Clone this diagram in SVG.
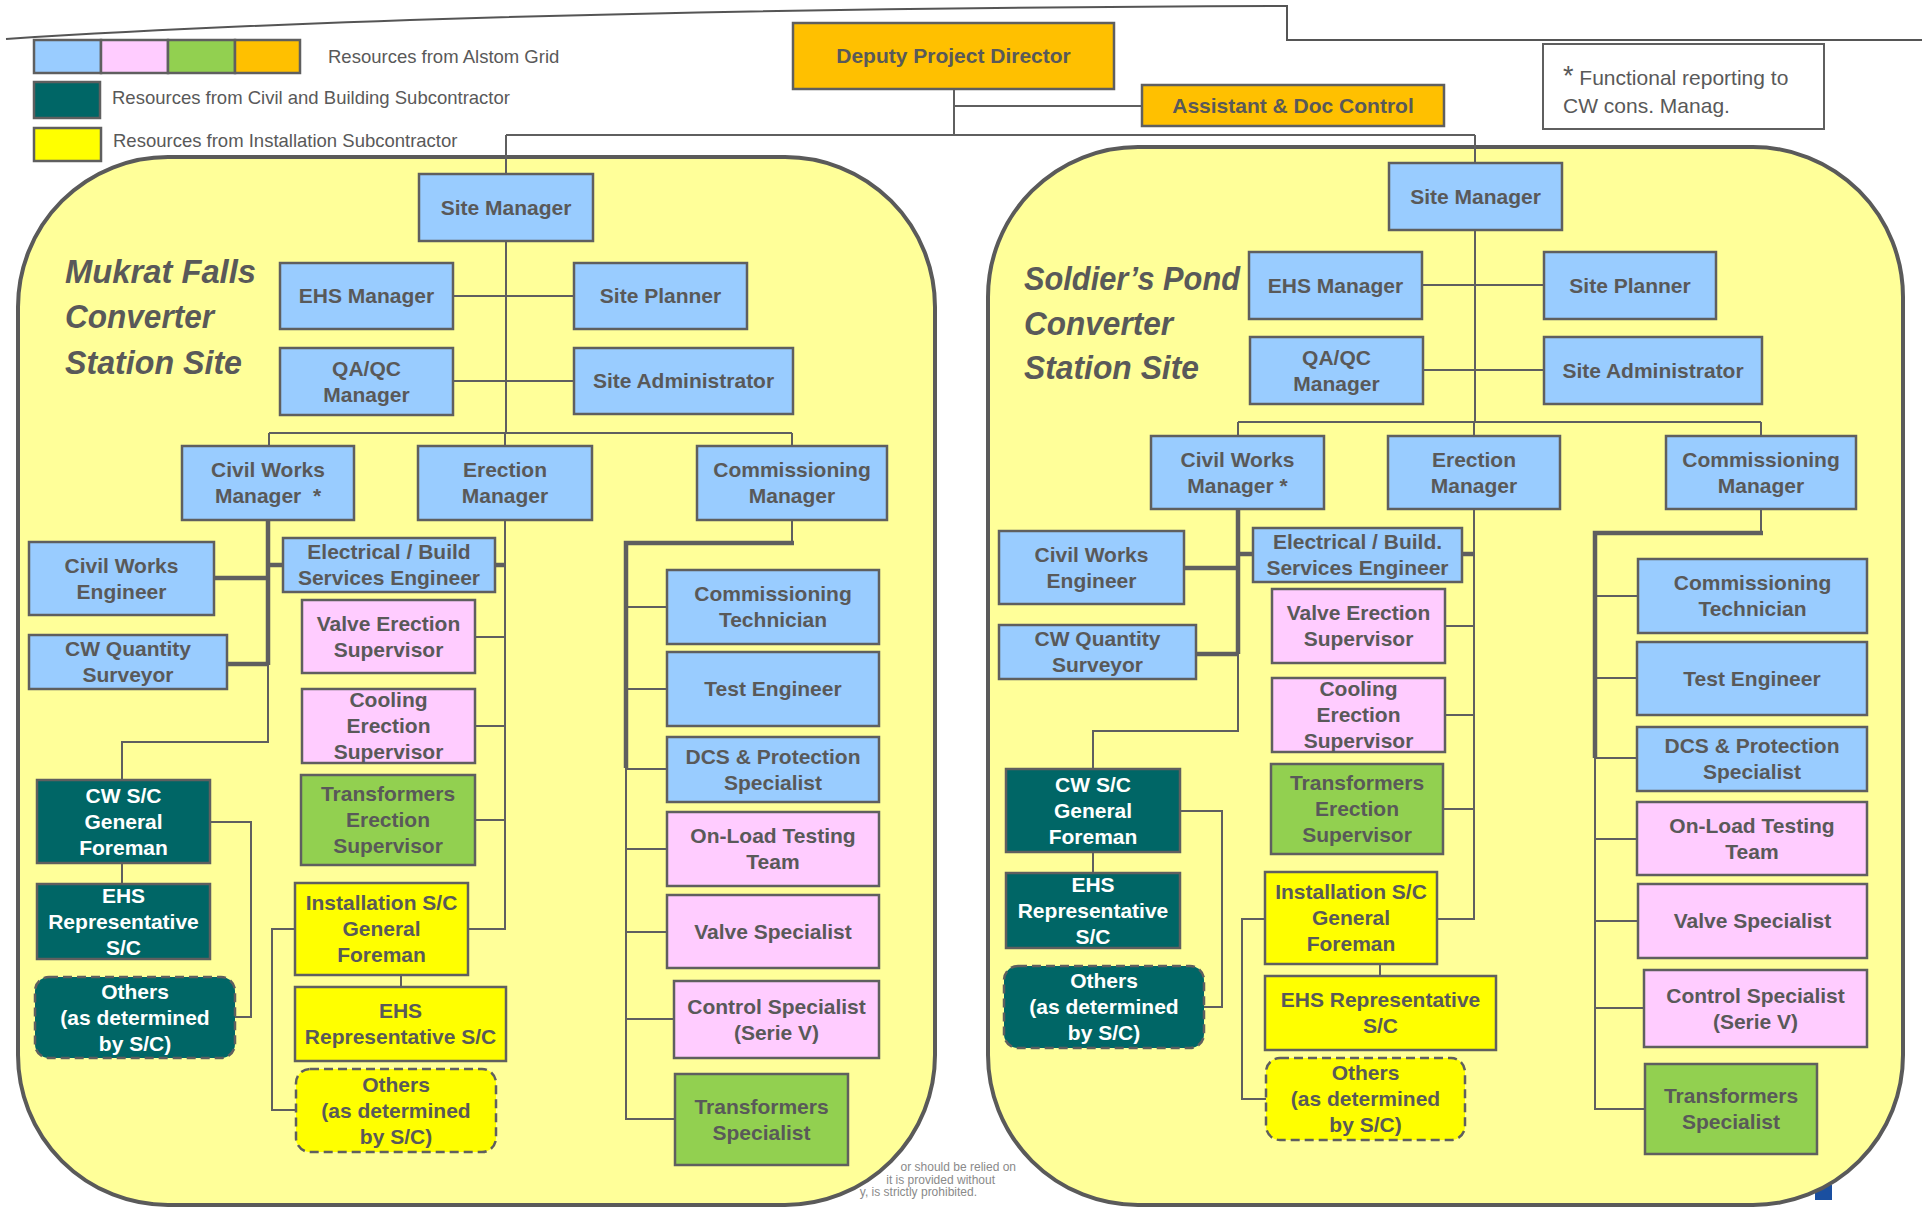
<svg xmlns="http://www.w3.org/2000/svg" width="1922" height="1207" viewBox="0 0 1922 1207">
<style>
.n rect{stroke:#5f5f5f;stroke-width:2.5}
.b{fill:#99CCFF}.p{fill:#FFCCFF}.g{fill:#92D050}.o{fill:#FFC000}.y{fill:#FFFF00}.t{fill:#006666}
.d{stroke-dasharray:9 5}
.n text{font-family:"Liberation Sans",Arial,sans-serif;font-weight:bold;font-size:21px;fill:#595959;text-anchor:middle}
.n text.w{fill:#ffffff}
.c{fill:none;stroke:#5f5f5f;stroke-width:2}
.k{fill:none;stroke:#5f5f5f;stroke-width:4.5}
.reg{fill:#FFFF99;stroke:#5a5a5a;stroke-width:4}
.lg{font-family:"Liberation Sans",Arial,sans-serif;font-size:18.5px;fill:#595959}
.ttl{font-family:"Liberation Sans",Arial,sans-serif;font-size:34px;font-weight:bold;font-style:italic;fill:#595959}
.disc{font-family:"Liberation Sans",Arial,sans-serif;font-size:12px;fill:#8a8a8a;text-anchor:end}
</style>

<!-- background details -->
<path d="M6,39 C300,20 700,8 1287,6 V40 H1922" fill="none" stroke="#555" stroke-width="2"/>
<text class="disc" x="1016" y="1171">or should be relied on</text>
<text class="disc" x="995" y="1184">it is provided without</text>
<text class="disc" x="977" y="1196">y, is strictly prohibited.</text>
<rect x="1815" y="1185" width="17" height="15" fill="#1a4fa0"/>

<!-- legend -->
<g id="legend">
<rect x="34" y="40" width="67" height="33" fill="#99CCFF" stroke="#5f5f5f" stroke-width="2.5"/>
<rect x="101" y="40" width="67" height="33" fill="#FFCCFF" stroke="#5f5f5f" stroke-width="2.5"/>
<rect x="168" y="40" width="67" height="33" fill="#92D050" stroke="#5f5f5f" stroke-width="2.5"/>
<rect x="235" y="40" width="65" height="33" fill="#FFC000" stroke="#5f5f5f" stroke-width="2.5"/>
<text class="lg" x="328" y="63">Resources from Alstom Grid</text>
<rect x="34" y="82" width="66" height="36" fill="#006666" stroke="#5f5f5f" stroke-width="2.5"/>
<text class="lg" x="112" y="104">Resources from Civil and Building Subcontractor</text>
<rect x="34" y="128" width="67" height="33" fill="#FFFF00" stroke="#5f5f5f" stroke-width="2.5"/>
<text class="lg" x="113" y="147">Resources from Installation Subcontractor</text>
</g>

<g id="note">
<rect x="1543" y="44" width="281" height="85" fill="#ffffff" stroke="#5f5f5f" stroke-width="2"/>
<text x="1563" y="85" font-family="Liberation Sans, Arial, sans-serif" font-size="21" fill="#595959"><tspan font-size="27">*</tspan> Functional reporting to</text>
<text x="1563" y="113" font-family="Liberation Sans, Arial, sans-serif" font-size="21" fill="#595959">CW cons. Manag.</text>
</g>

<!-- site regions -->
<g id="site-left">
<rect class="reg" x="18" y="157" width="917" height="1048" rx="150" ry="150"/>
<text class="ttl" x="65" y="283" textLength="191" lengthAdjust="spacingAndGlyphs">Mukrat Falls</text>
<text class="ttl" x="65" y="328" textLength="149" lengthAdjust="spacingAndGlyphs">Converter</text>
<text class="ttl" x="65" y="374" textLength="177" lengthAdjust="spacingAndGlyphs">Station Site</text>
</g>
<g id="site-right">
<rect class="reg" x="988" y="147" width="915" height="1058" rx="150" ry="150"/>
<text class="ttl" x="1024" y="290" textLength="216" lengthAdjust="spacingAndGlyphs">Soldier’s Pond</text>
<text class="ttl" x="1024" y="335" textLength="149" lengthAdjust="spacingAndGlyphs">Converter</text>
<text class="ttl" x="1024" y="379" textLength="175" lengthAdjust="spacingAndGlyphs">Station Site</text>
</g>

<!-- connectors -->
<g id="connectors">
<path class="c" d="M954,89 V135 M954,106 H1142 M506,135 H1475 M506,135 V174 M1475,135 V163"/>
<!-- left site -->
<path class="c" d="M506,241 V433 M453,296 H574 M453,381 H574 M269,433 H792 M269,433 V446 M505,433 V446 M792,433 V446"/>
<path class="k" d="M268,520 V665 M214,578 H268 M227,664 H268 M268,565 H283 M495,565 H505"/>
<path class="c" d="M268,665 V742 H122 V780 M122,863 V884 M210,822 H251 V1017 H235"/>
<path class="c" d="M505,520 V929 H468 M475,637 H505 M475,726 H505 M475,820 H505"/>
<path class="c" d="M295,929 H272 V1110 H296 M401,975 V987"/>
<path class="c" d="M792,520 V543"/>
<path class="k" d="M794,543 H626 V768"/>
<path class="c" d="M626,768 V1119 H675 M626,607 H667 M626,689 H667 M626,769 H667 M626,849 H667 M626,932 H667 M626,1019 H674"/>
<!-- right site -->
<path class="c" d="M1475,230 V422 M1422,285 H1544 M1423,370 H1544 M1238,422 H1761 M1238,422 V436 M1474,422 V436 M1761,422 V436"/>
<path class="k" d="M1238,509 V654 M1184,568 H1238 M1196,654 H1238 M1238,554 H1253 M1462,554 H1474"/>
<path class="c" d="M1238,654 V731 H1093 V769 M1093,852 V873 M1180,811 H1222 V1007 H1204"/>
<path class="c" d="M1474,509 V919 H1437 M1445,626 H1474 M1445,715 H1474 M1443,809 H1474"/>
<path class="c" d="M1265,919 H1242 V1099 H1266 M1380,964 V976"/>
<path class="c" d="M1761,509 V533"/>
<path class="k" d="M1763,533 H1595 V758"/>
<path class="c" d="M1595,758 V1109 H1645 M1595,596 H1638 M1595,678 H1637 M1595,758 H1637 M1595,839 H1637 M1595,921 H1638 M1595,1008 H1644"/>
</g>

<!-- top nodes -->
<g id="deputy-project-director" class="n"><rect class="o" x="793" y="23" width="321" height="66"/><text x="953.5" y="63">Deputy Project Director</text></g>
<g id="assistant-doc-control" class="n"><rect class="o" x="1142" y="85" width="302" height="41"/><text x="1293" y="113">Assistant &amp; Doc Control</text></g>

<!-- left site nodes -->
<g id="l-site-manager" class="n"><rect class="b" x="419" y="174" width="174" height="67"/><text x="506" y="214.5">Site Manager</text></g>
<g id="l-ehs-manager" class="n"><rect class="b" x="280" y="263" width="173" height="66"/><text x="366.5" y="303">EHS Manager</text></g>
<g id="l-site-planner" class="n"><rect class="b" x="574" y="263" width="173" height="66"/><text x="660.5" y="303">Site Planner</text></g>
<g id="l-qaqc-manager" class="n"><rect class="b" x="280" y="348" width="173" height="67"/><text x="366.5" y="375.5">QA/QC</text><text x="366.5" y="401.5">Manager</text></g>
<g id="l-site-admin" class="n"><rect class="b" x="574" y="348" width="219" height="66"/><text x="683.5" y="388">Site Administrator</text></g>
<g id="l-civil-works-manager" class="n"><rect class="b" x="182" y="446" width="172" height="74"/><text x="268" y="477">Civil Works</text><text x="268" y="503">Manager&#160; *</text></g>
<g id="l-erection-manager" class="n"><rect class="b" x="418" y="446" width="174" height="74"/><text x="505" y="477">Erection</text><text x="505" y="503">Manager</text></g>
<g id="l-commissioning-manager" class="n"><rect class="b" x="697" y="446" width="190" height="74"/><text x="792" y="477">Commissioning</text><text x="792" y="503">Manager</text></g>
<g id="l-civil-works-engineer" class="n"><rect class="b" x="29" y="542" width="185" height="73"/><text x="121.5" y="572.5">Civil Works</text><text x="121.5" y="598.5">Engineer</text></g>
<g id="l-cw-quantity-surveyor" class="n"><rect class="b" x="29" y="635" width="198" height="54"/><text x="128" y="656">CW Quantity</text><text x="128" y="682">Surveyor</text></g>
<g id="l-electrical-engineer" class="n"><rect class="b" x="283" y="538" width="212" height="54"/><text x="389" y="559">Electrical / Build</text><text x="389" y="585">Services Engineer</text></g>
<g id="l-valve-erection" class="n"><rect class="p" x="302" y="600" width="173" height="73"/><text x="388.5" y="630.5">Valve Erection</text><text x="388.5" y="656.5">Supervisor</text></g>
<g id="l-cooling-erection" class="n"><rect class="p" x="302" y="689" width="173" height="74"/><text x="388.5" y="707">Cooling</text><text x="388.5" y="733">Erection</text><text x="388.5" y="759">Supervisor</text></g>
<g id="l-transformers-erection" class="n"><rect class="g" x="301" y="775" width="174" height="90"/><text x="388" y="801">Transformers</text><text x="388" y="827">Erection</text><text x="388" y="853">Supervisor</text></g>
<g id="l-installation-gf" class="n"><rect class="y" x="295" y="883" width="173" height="92"/><text x="381.5" y="910">Installation S/C</text><text x="381.5" y="936">General</text><text x="381.5" y="962">Foreman</text></g>
<g id="l-installation-ehs" class="n"><rect class="y" x="295" y="987" width="211" height="74"/><text x="400.5" y="1018">EHS</text><text x="400.5" y="1044">Representative S/C</text></g>
<g id="l-installation-others" class="n"><rect class="y d" x="296" y="1069" width="200" height="83" rx="14"/><text x="396" y="1091.5">Others</text><text x="396" y="1117.5">(as determined</text><text x="396" y="1143.5">by S/C)</text></g>
<g id="l-cw-gf" class="n"><rect class="t" x="37" y="780" width="173" height="83"/><text class="w" x="123.5" y="802.5">CW S/C</text><text class="w" x="123.5" y="828.5">General</text><text class="w" x="123.5" y="854.5">Foreman</text></g>
<g id="l-cw-ehs" class="n"><rect class="t" x="37" y="884" width="173" height="75"/><text class="w" x="123.5" y="902.5">EHS</text><text class="w" x="123.5" y="928.5">Representative</text><text class="w" x="123.5" y="954.5">S/C</text></g>
<g id="l-cw-others" class="n"><rect class="t d" x="35" y="977" width="200" height="81" rx="14"/><text class="w" x="135" y="998.5">Others</text><text class="w" x="135" y="1024.5">(as determined</text><text class="w" x="135" y="1050.5">by S/C)</text></g>
<g id="l-commissioning-technician" class="n"><rect class="b" x="667" y="570" width="212" height="74"/><text x="773" y="601">Commissioning</text><text x="773" y="627">Technician</text></g>
<g id="l-test-engineer" class="n"><rect class="b" x="667" y="652" width="212" height="74"/><text x="773" y="696">Test Engineer</text></g>
<g id="l-dcs-protection" class="n"><rect class="b" x="667" y="737" width="212" height="65"/><text x="773" y="763.5">DCS &amp; Protection</text><text x="773" y="789.5">Specialist</text></g>
<g id="l-onload-testing" class="n"><rect class="p" x="667" y="812" width="212" height="74"/><text x="773" y="843">On-Load Testing</text><text x="773" y="869">Team</text></g>
<g id="l-valve-specialist" class="n"><rect class="p" x="667" y="895" width="212" height="73"/><text x="773" y="938.5">Valve Specialist</text></g>
<g id="l-control-specialist" class="n"><rect class="p" x="674" y="981" width="205" height="77"/><text x="776.5" y="1013.5">Control Specialist</text><text x="776.5" y="1039.5">(Serie V)</text></g>
<g id="l-transformers-specialist" class="n"><rect class="g" x="675" y="1074" width="173" height="91"/><text x="761.5" y="1113.5">Transformers</text><text x="761.5" y="1139.5">Specialist</text></g>

<!-- right site nodes -->
<g id="r-site-manager" class="n"><rect class="b" x="1389" y="163" width="173" height="67"/><text x="1475.5" y="203.5">Site Manager</text></g>
<g id="r-ehs-manager" class="n"><rect class="b" x="1249" y="252" width="173" height="67"/><text x="1335.5" y="292.5">EHS Manager</text></g>
<g id="r-site-planner" class="n"><rect class="b" x="1544" y="252" width="172" height="67"/><text x="1630" y="292.5">Site Planner</text></g>
<g id="r-qaqc-manager" class="n"><rect class="b" x="1250" y="337" width="173" height="67"/><text x="1336.5" y="364.5">QA/QC</text><text x="1336.5" y="390.5">Manager</text></g>
<g id="r-site-admin" class="n"><rect class="b" x="1544" y="337" width="218" height="67"/><text x="1653" y="377.5">Site Administrator</text></g>
<g id="r-civil-works-manager" class="n"><rect class="b" x="1151" y="436" width="173" height="73"/><text x="1237.5" y="466.5">Civil Works</text><text x="1237.5" y="492.5">Manager *</text></g>
<g id="r-erection-manager" class="n"><rect class="b" x="1388" y="436" width="172" height="73"/><text x="1474" y="466.5">Erection</text><text x="1474" y="492.5">Manager</text></g>
<g id="r-commissioning-manager" class="n"><rect class="b" x="1666" y="436" width="190" height="73"/><text x="1761" y="466.5">Commissioning</text><text x="1761" y="492.5">Manager</text></g>
<g id="r-civil-works-engineer" class="n"><rect class="b" x="999" y="531" width="185" height="73"/><text x="1091.5" y="561.5">Civil Works</text><text x="1091.5" y="587.5">Engineer</text></g>
<g id="r-cw-quantity-surveyor" class="n"><rect class="b" x="999" y="625" width="197" height="54"/><text x="1097.5" y="646">CW Quantity</text><text x="1097.5" y="672">Surveyor</text></g>
<g id="r-electrical-engineer" class="n"><rect class="b" x="1253" y="528" width="209" height="54"/><text x="1357.5" y="549">Electrical / Build.</text><text x="1357.5" y="575">Services Engineer</text></g>
<g id="r-valve-erection" class="n"><rect class="p" x="1272" y="589" width="173" height="74"/><text x="1358.5" y="620">Valve Erection</text><text x="1358.5" y="646">Supervisor</text></g>
<g id="r-cooling-erection" class="n"><rect class="p" x="1272" y="678" width="173" height="74"/><text x="1358.5" y="696">Cooling</text><text x="1358.5" y="722">Erection</text><text x="1358.5" y="748">Supervisor</text></g>
<g id="r-transformers-erection" class="n"><rect class="g" x="1271" y="764" width="172" height="90"/><text x="1357" y="790">Transformers</text><text x="1357" y="816">Erection</text><text x="1357" y="842">Supervisor</text></g>
<g id="r-installation-gf" class="n"><rect class="y" x="1265" y="872" width="172" height="92"/><text x="1351" y="899">Installation S/C</text><text x="1351" y="925">General</text><text x="1351" y="951">Foreman</text></g>
<g id="r-installation-ehs" class="n"><rect class="y" x="1265" y="976" width="231" height="74"/><text x="1380.5" y="1007">EHS Representative</text><text x="1380.5" y="1033">S/C</text></g>
<g id="r-installation-others" class="n"><rect class="y d" x="1266" y="1058" width="199" height="82" rx="14"/><text x="1365.5" y="1080">Others</text><text x="1365.5" y="1106">(as determined</text><text x="1365.5" y="1132">by S/C)</text></g>
<g id="r-cw-gf" class="n"><rect class="t" x="1006" y="769" width="174" height="83"/><text class="w" x="1093" y="791.5">CW S/C</text><text class="w" x="1093" y="817.5">General</text><text class="w" x="1093" y="843.5">Foreman</text></g>
<g id="r-cw-ehs" class="n"><rect class="t" x="1006" y="873" width="174" height="75"/><text class="w" x="1093" y="891.5">EHS</text><text class="w" x="1093" y="917.5">Representative</text><text class="w" x="1093" y="943.5">S/C</text></g>
<g id="r-cw-others" class="n"><rect class="t d" x="1004" y="966" width="200" height="82" rx="14"/><text class="w" x="1104" y="988">Others</text><text class="w" x="1104" y="1014">(as determined</text><text class="w" x="1104" y="1040">by S/C)</text></g>
<g id="r-commissioning-technician" class="n"><rect class="b" x="1638" y="559" width="229" height="74"/><text x="1752.5" y="590">Commissioning</text><text x="1752.5" y="616">Technician</text></g>
<g id="r-test-engineer" class="n"><rect class="b" x="1637" y="642" width="230" height="73"/><text x="1752" y="685.5">Test Engineer</text></g>
<g id="r-dcs-protection" class="n"><rect class="b" x="1637" y="727" width="230" height="64"/><text x="1752" y="753">DCS &amp; Protection</text><text x="1752" y="779">Specialist</text></g>
<g id="r-onload-testing" class="n"><rect class="p" x="1637" y="802" width="230" height="73"/><text x="1752" y="832.5">On-Load Testing</text><text x="1752" y="858.5">Team</text></g>
<g id="r-valve-specialist" class="n"><rect class="p" x="1638" y="884" width="229" height="74"/><text x="1752.5" y="928">Valve Specialist</text></g>
<g id="r-control-specialist" class="n"><rect class="p" x="1644" y="970" width="223" height="77"/><text x="1755.5" y="1002.5">Control Specialist</text><text x="1755.5" y="1028.5">(Serie V)</text></g>
<g id="r-transformers-specialist" class="n"><rect class="g" x="1645" y="1064" width="172" height="90"/><text x="1731" y="1103">Transformers</text><text x="1731" y="1129">Specialist</text></g>
</svg>
